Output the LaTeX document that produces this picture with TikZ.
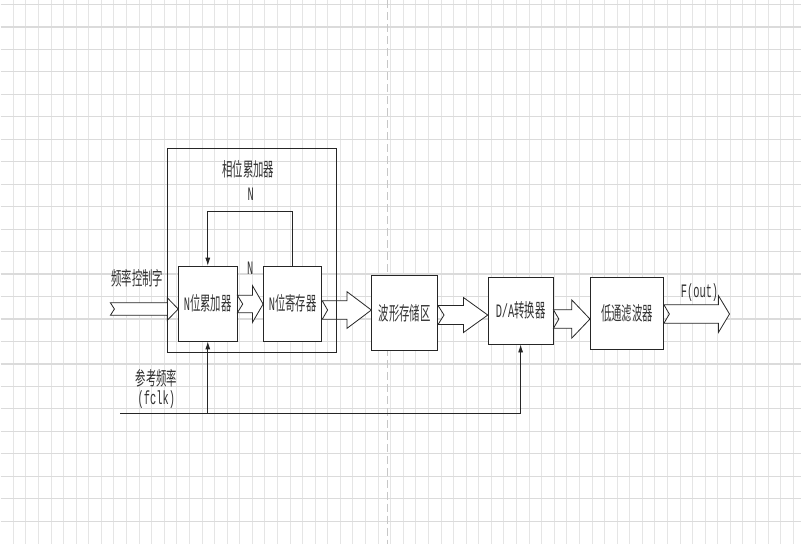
\documentclass[tikz,border=0pt]{standalone}
\usepackage{fontspec}
\setmainfont{Liberation Mono}
\newfontfamily\cjk{Noto Sans CJK SC}
\usepackage{graphicx}
\usetikzlibrary{arrows.meta,calc}

\newcommand{\sq}[1]{\scalebox{0.61}[1.12]{#1}}
% tail, tip, body half, head half, head length, notch
\newcommand{\fatarrow}[6]{%
  \path (#1) coordinate (fa-t) (#2) coordinate (fa-h);
  \draw[fat] ($(fa-t)+(0,-#3)$) -- ($(fa-h)+(-#5,-#3)$) -- ($(fa-h)+(-#5,-#4)$) -- (fa-h)
    -- ($(fa-h)+(-#5,#4)$) -- ($(fa-h)+(-#5,#3)$) -- ($(fa-t)+(0,#3)$) -- ($(fa-t)+(#6,0)$) -- cycle;}

\begin{document}
\begin{tikzpicture}[x=1pt, y=-1pt, >={Latex[length=8pt,width=5pt]}]
    \tikzstyle{block} = [rectangle, draw=black!85, line width=0.8pt, fill=white, text=black!80, font=\fontsize{17}{17}\selectfont, inner sep=0pt]
    \tikzstyle{lbl} = [text=black!80, font=\fontsize{17}{17}\selectfont, inner sep=0pt]
    \tikzstyle{fat} = [draw=black!85, line width=0.8pt, fill=white, line join=miter]
    \tikzstyle{wire} = [draw=black!85, line width=0.8pt]
    \tikzstyle{gridv} = [draw=black!10, line width=0.8pt]
    \tikzstyle{gridh} = [draw=black!14, line width=1.2pt]

    % background grid
    \fill[white] (0,0) rectangle (802,544);
    \foreach \i in {1,...,63} \draw[gridv] (12.6*\i,0) -- (12.6*\i,544);
    \foreach \j in {0,...,23} \draw[gridh] (0,4+22.5*\j) -- (802,4+22.5*\j);
    \draw[black!22, line width=1pt, dash pattern=on 8pt off 4pt] (387,0) -- (387,544);
    \useasboundingbox (0,0) rectangle (802,544);

    \node[block, minimum width=58.4pt, minimum height=75pt] (acc) at (207.5,303.5) {\sq{N\cjk 位累加器}};
    \node[block, minimum width=58.4pt, minimum height=75pt] (reg) at (292.5,303.5) {\sq{N\cjk 位寄存器}};
    \node[block, minimum width=66pt, minimum height=75.7pt] (rom) at (404.7,312.8) {\sq{\cjk 波形存储区}};
    \node[block, minimum width=65pt, minimum height=66.7pt] (dac) at (520.8,310.7) {\sq{D/A\cjk 转换器}};
    \node[block, minimum width=73.3pt, minimum height=72pt] (lpf) at (627.3,313.3) {\sq{\cjk 低通滤波器}};

    \node[lbl] (phasetxt) at (248,169) {\sq{\cjk 相位累加器}};
    \node[lbl] (fbN) at (250.5,194) {\sq{N}};
    \node[lbl] (busN) at (250,268) {\sq{N}};
    \node[lbl] (fword) at (137,278) {\sq{\cjk 频率控制字}};
    \node[lbl] (ref) at (156,378) {\sq{\cjk 参考频率}};
    \node[lbl] (fclk) at (156,400) {\sq{(fclk)}};
    \node[lbl] (fouttxt) at (700,292.7) {\sq{F(out)}};

    \coordinate (fin) at (110,309);
    \coordinate (fout) at (730,314);
    \coordinate (clk) at (120,413.3);

    \fatarrow{fin}{acc.west |- 0,309}{6.2}{11.3}{11}{4}
    \fatarrow{acc.east |- 0,304}{reg.west |- 0,304}{8.8}{18.3}{10.6}{5.4}
    \fatarrow{reg.east |- 0,310}{rom.west |- 0,310}{9.3}{18.3}{24.3}{5.4}
    \fatarrow{rom.east |- 0,315}{dac.west |- 0,315}{9.5}{17.5}{24.3}{6}
    \fatarrow{dac.east |- 0,319}{lpf.west |- 0,319}{9.2}{19.2}{18.3}{5.4}
    \fatarrow{lpf.east |- 0,314}{fout}{9.2}{18.3}{11}{5.4}

    \draw[wire, ->] (reg.north) -- ++(0,-54.3) -| (acc.north);
    \draw[wire, ->] (clk) -| (dac.south);
    \draw[wire, ->] (clk -| acc.south) -- (acc.south);

    \node[draw=black!85, line width=0.8pt, minimum width=169pt, minimum height=203.7pt, inner sep=0pt] (phase) at (251.5,250.2) {};
\end{tikzpicture}
\end{document}
